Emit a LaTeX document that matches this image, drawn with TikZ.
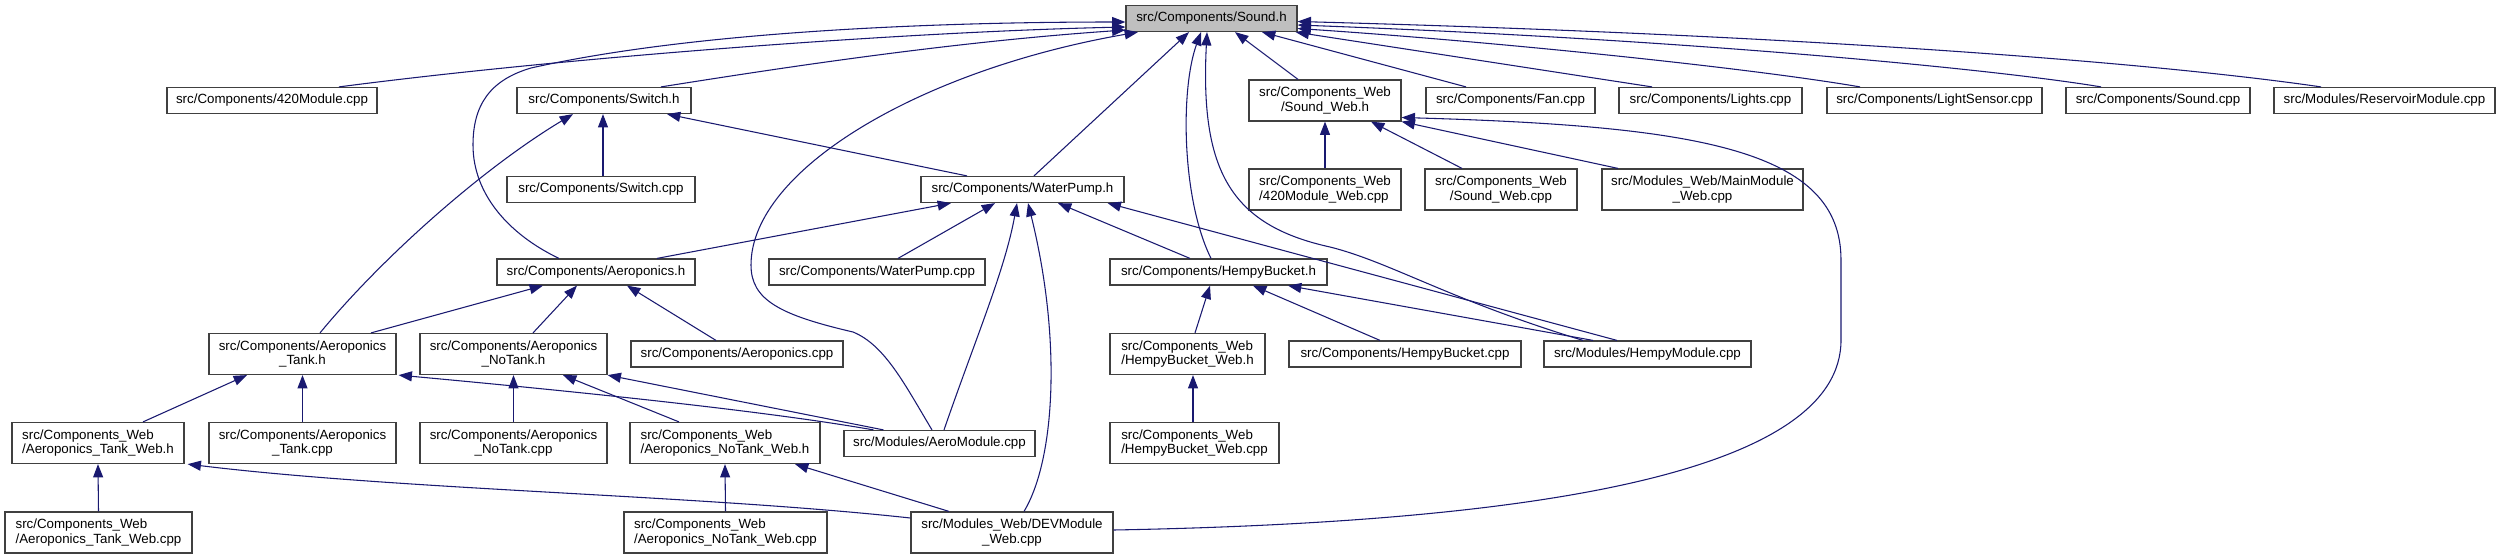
\documentclass[tikz,border=0pt]{standalone}
\usepackage{fontspec}
\setmainfont{Liberation Sans}
\usetikzlibrary{arrows.meta,calc}
\definecolor{edgec}{RGB}{25,25,112}
\definecolor{boxc}{HTML}{404040}
\definecolor{hl}{HTML}{BFBFBF}
\begin{document}
\begin{tikzpicture}[x=0.75bp,y=-0.75bp,
 box/.style={draw=boxc, fill=white, line width=0.9bp, inner sep=0pt, font=\fontsize{10bp}{11bp}\selectfont, align=center},
 one/.style={box, minimum height=19.5bp},
 two/.style={box, minimum height=30.75bp},
 wd/.style={minimum width=#1*0.75bp},
 dep/.style={draw=edgec, line width=0.8bp, -{Triangle[length=10bp,width=7.5bp]}},
]
\useasboundingbox (0,0) rectangle (2501,559);
% row 0
\node[one, wd=171, fill=hl] (sound) at (1211.5,18.5) {src/Components/Sound.h};
% row 1
\node[one, wd=210] (m420) at (272,100.5) {src/Components/420Module.cpp};
\node[one, wd=174] (switchh) at (604,100.5) {src/Components/Switch.h};
\node[two, wd=152] (soundweb) at (1325,100.5) {src/Components\_Web\\/Sound\_Web.h};
\node[one, wd=169] (fan) at (1510.5,100.5) {src/Components/Fan.cpp};
\node[one, wd=183] (lights) at (1710.5,100.5) {src/Components/Lights.cpp};
\node[one, wd=215] (lightsensor) at (1934.5,100.5) {src/Components/LightSensor.cpp};
\node[one, wd=184] (soundcpp) at (2158,100.5) {src/Components/Sound.cpp};
\node[one, wd=221] (reservoir) at (2384.5,100.5) {src/Modules/ReservoirModule.cpp};
% row 2
\node[one, wd=188] (switchcpp) at (601,189.5) {src/Components/Switch.cpp};
\node[one, wd=203] (waterpump) at (1022.5,189.5) {src/Components/WaterPump.h};
\node[two, wd=152, align=left] (m420web) at (1325,189.5) {src/Components\_Web\\/420Module\_Web.cpp};
\node[two, wd=152] (soundwebcpp) at (1501,189.5) {src/Components\_Web\\/Sound\_Web.cpp};
\node[two, wd=201] (mainweb) at (1702.5,189.5) {src/Modules\_Web/MainModule\\\_Web.cpp};
% row 3
\node[one, wd=198] (aeroh) at (596,272) {src/Components/Aeroponics.h};
\node[one, wd=216] (wpcpp) at (877,272) {src/Components/WaterPump.cpp};
\node[one, wd=217] (hempyh) at (1218.5,272) {src/Components/HempyBucket.h};
% row 4
\node[two, wd=187] (tankh) at (302.5,354) {src/Components/Aeroponics\\\_Tank.h};
\node[two, wd=187] (notankh) at (513.5,354) {src/Components/Aeroponics\\\_NoTank.h};
\node[one, wd=212] (aerocpp) at (737,354) {src/Components/Aeroponics.cpp};
\node[two, wd=155, align=left] (hempywebh) at (1187.5,354) {src/Components\_Web\\/HempyBucket\_Web.h};
\node[one, wd=232] (hempycpp) at (1405,354) {src/Components/HempyBucket.cpp};
\node[one, wd=207] (hempymod) at (1647.5,354) {src/Modules/HempyModule.cpp};
% row 5
\node[two, wd=172, align=left] (tankwebh) at (98,443) {src/Components\_Web\\/Aeroponics\_Tank\_Web.h};
\node[two, wd=187] (tankcpp) at (302.5,443) {src/Components/Aeroponics\\\_Tank.cpp};
\node[two, wd=187] (notankcpp) at (513.5,443) {src/Components/Aeroponics\\\_NoTank.cpp};
\node[two, wd=190, align=left] (notankwebh) at (725,443) {src/Components\_Web\\/Aeroponics\_NoTank\_Web.h};
\node[one, wd=191] (aeromod) at (939.5,443.5) {src/Modules/AeroModule.cpp};
\node[two, wd=169, align=left] (hempywebcpp) at (1194.5,443) {src/Components\_Web\\/HempyBucket\_Web.cpp};
% row 6
\node[two, wd=187, align=left] (tankwebcpp) at (98.5,532.5) {src/Components\_Web\\/Aeroponics\_Tank\_Web.cpp};
\node[two, wd=203, align=left] (notankwebcpp) at (725.5,532.5) {src/Components\_Web\\/Aeroponics\_NoTank\_Web.cpp};
\node[two, wd=202] (devweb) at (1012,532.5) {src/Modules\_Web/DEVModule\\\_Web.cpp};

% edges into Sound.h
\draw[dep] ($(m420.north)+(67,0)$) .. controls (560,58) and (900,32) .. ($(sound.west)+(0,8.5)$);
\draw[dep] ($(switchh.north)+(57,0)$) .. controls (780,68) and (950,42) .. ($(sound.west)+(0,11.5)$);
\draw[dep] ($(aeroh.north)+(-37,0)$) .. controls (510,235) and (473,195) .. (473,145) .. controls (473,105) and (490,80) .. (531,68) .. controls (700,30) and (950,22) .. ($(sound.west)+(0,3.5)$);
\draw[dep] ($(waterpump.north)+(11.5,0)$) -- ($(sound.south)+(-22.5,0)$);
\draw[dep] ($(aeromod.north)+(-7.5,0)$) .. controls (905,385) and (885,345) .. (853,332) .. controls (780,315) and (751,300) .. (751,265) .. controls (751,170) and (920,70) .. ($(sound.south)+(-73.5,0)$);
\draw[dep] ($(soundweb.north)+(-27,0)$) -- ($(sound.south)+(23.5,0)$);
\draw[dep] ($(hempyh.north)+(-7.5,0)$) .. controls (1182,200) and (1180,90) .. ($(sound.south)+(-10.5,0)$);
\draw[dep] ($(hempymod.north)+(-64.5,0)$) .. controls (1450,300) and (1390,262) .. (1330,247) .. controls (1230,225) and (1200,170) .. ($(sound.south)+(-4.5,0)$);
\draw[dep] ($(fan.north)+(-44.5,0)$) -- ($(sound.south)+(50.5,0)$);
\draw[dep] ($(lights.north)+(-58.5,0)$) -- ($(sound.south east)+(-2,0)$);
\draw[dep] ($(lightsensor.north)+(-74.5,0)$) .. controls (1750,68) and (1500,42) .. ($(sound.east)+(0,10)$);
\draw[dep] ($(soundcpp.north)+(-57,0)$) .. controls (2000,70) and (1700,40) .. ($(sound.east)+(0,6.5)$);
\draw[dep] ($(reservoir.north)+(-63.5,0)$) .. controls (2150,62) and (1800,35) .. ($(sound.east)+(0,3)$);
% Switch.h
\draw[dep] ($(switchcpp.north)+(2,0)$) -- ($(switchh.south)+(-1,0)$);
\draw[dep] ($(waterpump.north)+(-55.5,0)$) -- ($(switchh.south)+(63,0)$);
\draw[dep] ($(tankh.north)+(17.5,0)$) .. controls (380,260) and (480,170) .. ($(switchh.south)+(-31,0)$);
% WaterPump.h
\draw[dep] ($(aeroh.north)+(61,0)$) -- ($(waterpump.south)+(-71.5,0)$);
\draw[dep] ($(wpcpp.north)+(21,0)$) -- ($(waterpump.south)+(-27.5,0)$);
\draw[dep] ($(aeromod.north)+(4.5,0)$) .. controls (975,340) and (1005,270) .. ($(waterpump.south)+(-5.5,0)$);
\draw[dep] ($(devweb.north)+(12,0)$) .. controls (1055,460) and (1062,340) .. ($(waterpump.south)+(5.5,0)$);
\draw[dep] ($(hempyh.north)+(-28.5,0)$) -- ($(waterpump.south)+(35.5,0)$);
\draw[dep] ($(hempymod.north)+(-30.5,0)$) -- ($(waterpump.south east)+(-17,0)$);
% Aeroponics.h
\draw[dep] ($(tankh.north)+(68.5,0)$) -- ($(aeroh.south)+(-53,0)$);
\draw[dep] ($(notankh.north)+(19.5,0)$) -- ($(aeroh.south)+(-19,0)$);
\draw[dep] ($(aerocpp.north)+(-21,0)$) -- ($(aeroh.south)+(31,0)$);
% Aeroponics_Tank.h
\draw[dep] ($(tankwebh.north)+(45,0)$) -- ($(tankh.south)+(-55.5,0)$);
\draw[dep] (tankcpp.north) -- (tankh.south);
\draw[dep] ($(aeromod.north)+(-66,0)$) .. controls (760,410) and (560,390) .. ($(tankh.south east)+(2,0)$);
% Aeroponics_NoTank.h
\draw[dep] ($(aeromod.north)+(-56,0)$) -- (notankh.south east);
\draw[dep] (notankcpp.north) -- (notankh.south);
\draw[dep] ($(notankwebh.north)+(-46,0)$) -- ($(notankh.south)+(49.5,0)$);
% Aeroponics_Tank_Web.h
\draw[dep] (tankwebcpp.north) -- (tankwebh.south);
\draw[dep] ($(devweb.west)+(0,-14.5)$) .. controls (700,495) and (400,490) .. ($(tankwebh.south east)+(3,0)$);
% Aeroponics_NoTank_Web.h
\draw[dep] (notankwebcpp.north) -- (notankwebh.south);
\draw[dep] ($(devweb.north)+(-63,0)$) -- ($(notankwebh.south)+(70,0)$);
% HempyBucket.h
\draw[dep] ($(hempywebh.north)+(7.5,0)$) -- ($(hempyh.south)+(-8.5,0)$);
\draw[dep] ($(hempycpp.north)+(-25,0)$) -- ($(hempyh.south)+(34.5,0)$);
\draw[dep] ($(hempymod.north)+(-54.5,0)$) -- ($(hempyh.south)+(69.5,0)$);
% HempyBucket_Web.h
\draw[dep] ($(hempywebcpp.north)+(-1.5,0)$) -- ($(hempywebh.south)+(5.5,0)$);
% Sound_Web.h
\draw[dep] (m420web.north) -- (soundweb.south);
\draw[dep] ($(soundwebcpp.north)+(-39,0)$) -- ($(soundweb.south)+(46,0)$);
\draw[dep] ($(mainweb.north)+(-84.5,0)$) -- (soundweb.south east);
\draw[dep] ($(devweb.east)+(0,-2.5)$) .. controls (1550,522) and (1841,470) .. (1841,340) -- (1841,260) .. controls (1841,150) and (1700,126) .. ($(soundweb.east)+(0,17)$);
\end{tikzpicture}
\end{document}
